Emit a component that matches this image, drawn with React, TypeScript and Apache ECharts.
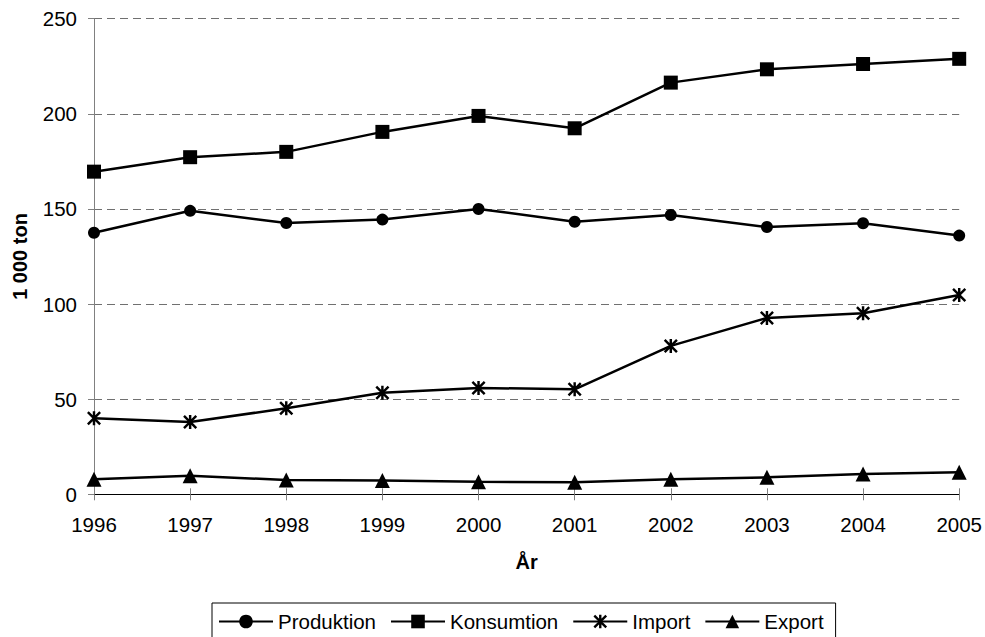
import React, { useEffect, useRef } from "react";
import * as echarts from "echarts";

const years = ["1996", "1997", "1998", "1999", "2000", "2001", "2002", "2003", "2004", "2005"];
const produktion = [137.5, 149, 142.6, 144.4, 150, 143.3, 146.8, 140.5, 142.5, 136];
const konsumtion = [169.6, 177.2, 180, 190.5, 198.9, 192.4, 216.4, 223.4, 226.2, 228.9];
const importData = [40, 38, 45.2, 53.4, 55.9, 55.2, 78, 92.7, 95.2, 104.8];
const exportData = [7.9, 9.8, 7.5, 7.2, 6.6, 6.3, 7.9, 8.9, 10.7, 11.6];
const seriesNames = ["Produktion", "Konsumtion", "Import", "Export"];

const FONT = "'Liberation Sans', Arial, Helvetica, sans-serif";
const STAR =
  "path://M8.25 0 L11.75 0 L11.75 20 L8.25 20 Z M2.47 0 L20 17.53 L17.53 20 L0 2.47 Z M17.53 0 L20 2.47 L2.47 20 L0 17.53 Z";

export default function App() {
  const ref = useRef<HTMLDivElement>(null);
  useEffect(() => {
    if (!ref.current) return;
    const chart = echarts.init(ref.current, undefined, { renderer: "svg" });
    const lineStyle = { color: "#000", width: 2.5 };
    const mk = (name: string, data: number[], symbol: string, size: number) => ({
      name,
      type: "line",
      data,
      symbol,
      symbolSize: size,
      showSymbol: true,
      lineStyle,
      itemStyle: { color: "#000" },
      emphasis: { disabled: true },
      z: 3,
    });
    chart.setOption({
      animation: false,
      textStyle: { fontFamily: FONT },
      grid: { left: 94, right: 25, top: 18.7, bottom: 142.7, containLabel: false },
      legend: {
        data: seriesNames,
        left: 212,
        top: 603,
        padding: [8, 12, 8, 6],
        borderColor: "#000",
        borderWidth: 1,
        itemWidth: 54,
        itemHeight: 17,
        itemGap: 14,
        selectedMode: false,
        textStyle: { fontFamily: FONT, fontSize: 20.5, color: "#000" },
      },
      xAxis: [
        {
          type: "category",
          data: years,
          boundaryGap: false,
          name: "År",
          nameLocation: "middle",
          nameGap: 58,
          nameTextStyle: { fontFamily: FONT, fontSize: 20, fontWeight: "bold", color: "#000" },
          axisLine: { show: true, lineStyle: { color: "#000", width: 1 } },
          axisTick: { show: true, length: 6, lineStyle: { color: "#808080" } },
          axisLabel: { margin: 20, fontSize: 20.5, color: "#000", fontFamily: FONT },
          splitLine: { show: false },
        },
        {
          type: "category",
          data: years,
          boundaryGap: false,
          position: "top",
          offset: -475.6,
          axisLine: { show: false },
          axisTick: { show: true, length: 6, lineStyle: { color: "#808080" } },
          axisLabel: { show: false },
          splitLine: { show: false },
        },
      ],
      yAxis: {
        type: "value",
        min: 0,
        max: 250,
        interval: 50,
        name: "1 000 ton",
        nameLocation: "middle",
        nameGap: 64,
        nameTextStyle: { fontFamily: FONT, fontSize: 20, fontWeight: "bold", color: "#000" },
        axisLine: { show: true, lineStyle: { color: "#808080", width: 1 } },
        axisTick: { show: true, length: 6, lineStyle: { color: "#808080" } },
        axisLabel: { margin: 17, fontSize: 20.5, color: "#000", fontFamily: FONT },
        splitLine: { show: true, lineStyle: { color: "#707070", type: [8, 5], width: 1 } },
      },
      series: [
        mk("Produktion", produktion, "circle", 12),
        mk("Konsumtion", konsumtion, "rect", 14),
        mk("Import", importData, STAR, 14),
        mk("Export", exportData, "triangle", 15),
      ],
    });
    return () => chart.dispose();
  }, []);
  return <div ref={ref} style={{ width: 985, height: 637, position: "absolute", left: 0, top: 0 }} />;
}
